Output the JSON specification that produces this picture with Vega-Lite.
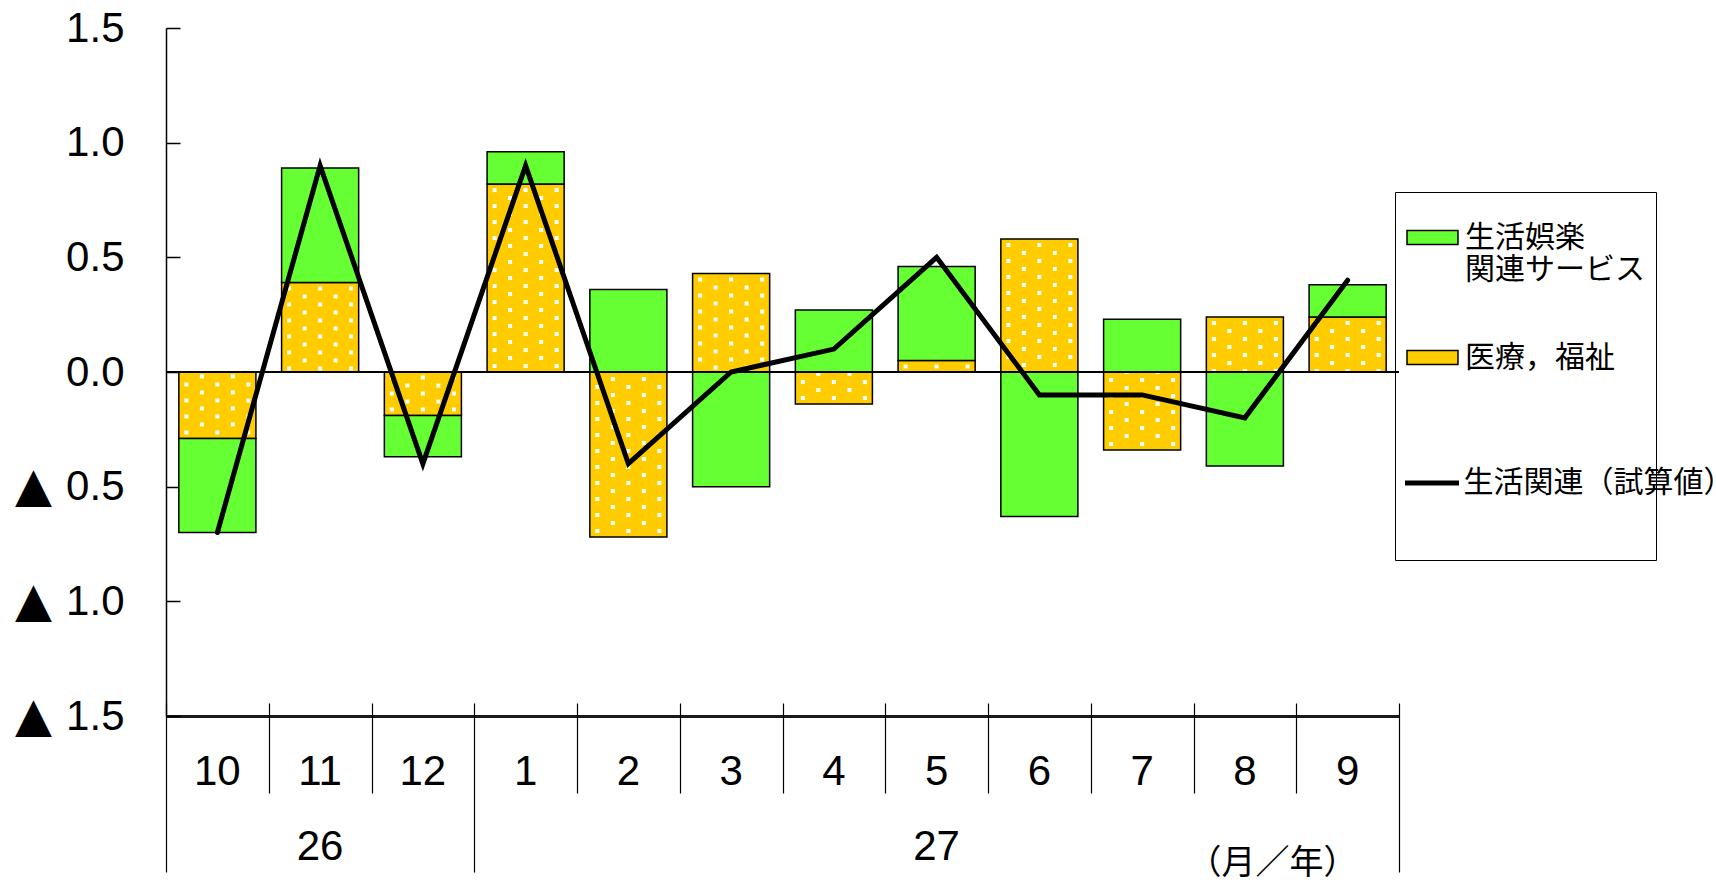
{
  "$schema": "https://vega.github.io/schema/vega-lite/v6.json",
  "width": 1233,
  "height": 688,
  "autosize": {"type": "none"},
  "padding": {"left": 166, "top": 28, "right": 317, "bottom": 168},
  "background": "white",
  "config": {
    "view": {"stroke": null},
    "axis": {"grid": false},
    "legend": {"labelFont": "Noto Sans CJK JP"}
  },
  "datasets": {
    "bars": [
      {"month": "10", "series": "医療，福祉", "ord": 0, "value": -0.29},
      {"month": "10", "series": "生活娯楽関連サービス", "ord": 1, "value": -0.41},
      {"month": "11", "series": "医療，福祉", "ord": 0, "value": 0.39},
      {"month": "11", "series": "生活娯楽関連サービス", "ord": 1, "value": 0.50},
      {"month": "12", "series": "医療，福祉", "ord": 0, "value": -0.19},
      {"month": "12", "series": "生活娯楽関連サービス", "ord": 1, "value": -0.18},
      {"month": "1", "series": "医療，福祉", "ord": 0, "value": 0.82},
      {"month": "1", "series": "生活娯楽関連サービス", "ord": 1, "value": 0.14},
      {"month": "2", "series": "医療，福祉", "ord": 0, "value": -0.72},
      {"month": "2", "series": "生活娯楽関連サービス", "ord": 1, "value": 0.36},
      {"month": "3", "series": "医療，福祉", "ord": 0, "value": 0.43},
      {"month": "3", "series": "生活娯楽関連サービス", "ord": 1, "value": -0.50},
      {"month": "4", "series": "医療，福祉", "ord": 0, "value": -0.14},
      {"month": "4", "series": "生活娯楽関連サービス", "ord": 1, "value": 0.27},
      {"month": "5", "series": "医療，福祉", "ord": 0, "value": 0.05},
      {"month": "5", "series": "生活娯楽関連サービス", "ord": 1, "value": 0.41},
      {"month": "6", "series": "医療，福祉", "ord": 0, "value": 0.58},
      {"month": "6", "series": "生活娯楽関連サービス", "ord": 1, "value": -0.63},
      {"month": "7", "series": "医療，福祉", "ord": 0, "value": -0.34},
      {"month": "7", "series": "生活娯楽関連サービス", "ord": 1, "value": 0.23},
      {"month": "8", "series": "医療，福祉", "ord": 0, "value": 0.24},
      {"month": "8", "series": "生活娯楽関連サービス", "ord": 1, "value": -0.41},
      {"month": "9", "series": "医療，福祉", "ord": 0, "value": 0.24},
      {"month": "9", "series": "生活娯楽関連サービス", "ord": 1, "value": 0.14}
    ],
    "line": [
      {"month": "10", "series": "生活関連（試算値）", "total": -0.7},
      {"month": "11", "series": "生活関連（試算値）", "total": 0.9},
      {"month": "12", "series": "生活関連（試算値）", "total": -0.4},
      {"month": "1", "series": "生活関連（試算値）", "total": 0.9},
      {"month": "2", "series": "生活関連（試算値）", "total": -0.4},
      {"month": "3", "series": "生活関連（試算値）", "total": 0.0},
      {"month": "4", "series": "生活関連（試算値）", "total": 0.1},
      {"month": "5", "series": "生活関連（試算値）", "total": 0.5},
      {"month": "6", "series": "生活関連（試算値）", "total": -0.1},
      {"month": "7", "series": "生活関連（試算値）", "total": -0.1},
      {"month": "8", "series": "生活関連（試算値）", "total": -0.2},
      {"month": "9", "series": "生活関連（試算値）", "total": 0.4}
    ],
    "bounds": [{"b": 0}, {"b": 12}]
  },
  "layer": [
    {
      "layer": [
        {
          "data": {"name": "bars"},
          "mark": {"type": "bar", "stroke": "black", "strokeWidth": 1.5},
          "encoding": {
            "x": {
              "field": "month", "type": "nominal",
              "sort": ["10","11","12","1","2","3","4","5","6","7","8","9"],
              "scale": {"paddingInner": 0.25, "paddingOuter": 0.125},
              "axis": {
                "ticks": false,
                "domain": true, "domainColor": "#1a1a1a", "domainWidth": 3,
                "labelAngle": 0,
                "labelFont": "Liberation Sans", "labelFontSize": 42, "labelColor": "black",
                "labelBaseline": "top", "labelPadding": 35, "labelLineHeight": 75,
                "labelOverlap": false,
                "labelExpr": "datum.value === '11' ? ['11', '26'] : datum.value === '5' ? ['5', '27'] : datum.label",
                "title": "（月／年）",
                "titleFont": "Noto Sans CJK JP", "titleFontSize": 34, "titleFontWeight": "normal", "titleColor": "black",
                "titleX": 1106, "titleY": 147, "titleAlign": "center", "titleBaseline": "middle", "titleAngle": 0
              }
            },
            "y": {
              "field": "value", "type": "quantitative", "stack": "zero",
              "scale": {"domain": [-1.5, 1.5], "nice": false, "zero": false},
              "axis": {
                "values": [-1.5, -1, -0.5, 0, 0.5, 1, 1.5],
                "title": null,
                "domainColor": "black", "domainWidth": 1.5,
                "tickColor": "black", "tickWidth": 1.5, "tickSize": -14,
                "labelPadding": 56,
                "labelFont": "Liberation Sans", "labelFontSize": 42, "labelColor": "black",
                "labelExpr": "format(abs(datum.value), '.1f')"
              }
            },
            "order": {"field": "ord", "type": "quantitative"},
            "fill": {
              "field": "series", "type": "nominal",
              "scale": {
                "domain": ["生活娯楽関連サービス", "医療，福祉"],
                "range": ["#66FF33", "#FFCC00"]
              },
              "legend": {
                "orient": "none", "legendX": 1229, "legendY": 164,
                "title": "\u00a0", "titleOrient": "bottom", "titleFontSize": 30, "titlePadding": 146,
                "strokeColor": "black", "padding": 11,
                "labelFontSize": 30, "labelColor": "black", "labelLimit": 500, "labelOffset": -10,
                "labelBaseline": "middle",
                "rowPadding": 38,
                "symbolType": "M-1,-0.209H0.522V0.209H-1Z",
                "symbolSize": 4489,
                "symbolStrokeColor": "black", "symbolStrokeWidth": 1.5, "symbolOpacity": 1,
                "labelExpr": "datum.value === '生活娯楽関連サービス' ? ['生活娯楽', '関連サービス'] : datum.label"
              }
            }
          }
        },
        {
          "data": {"name": "bars"},
          "transform": [{"filter": "datum.series === '医療，福祉'"}],
          "mark": {"type": "rule", "color": "white", "strokeWidth": 4, "strokeDash": [4, 12], "strokeDashOffset": 12, "xOffset": -31},
          "encoding": {
            "x": {"field": "month", "type": "nominal", "sort": ["10","11","12","1","2","3","4","5","6","7","8","9"]},
            "y": {"field": "value", "type": "quantitative"},
            "y2": {"datum": 0}
          }
        },
        {
          "data": {"name": "bars"},
          "transform": [{"filter": "datum.series === '医療，福祉'"}],
          "mark": {"type": "rule", "color": "white", "strokeWidth": 4, "strokeDash": [4, 12], "strokeDashOffset": 4, "xOffset": -15.5},
          "encoding": {
            "x": {"field": "month", "type": "nominal", "sort": ["10","11","12","1","2","3","4","5","6","7","8","9"]},
            "y": {"field": "value", "type": "quantitative"},
            "y2": {"datum": 0}
          }
        },
        {
          "data": {"name": "bars"},
          "transform": [{"filter": "datum.series === '医療，福祉'"}],
          "mark": {"type": "rule", "color": "white", "strokeWidth": 4, "strokeDash": [4, 12], "strokeDashOffset": 12, "xOffset": 0},
          "encoding": {
            "x": {"field": "month", "type": "nominal", "sort": ["10","11","12","1","2","3","4","5","6","7","8","9"]},
            "y": {"field": "value", "type": "quantitative"},
            "y2": {"datum": 0}
          }
        },
        {
          "data": {"name": "bars"},
          "transform": [{"filter": "datum.series === '医療，福祉'"}],
          "mark": {"type": "rule", "color": "white", "strokeWidth": 4, "strokeDash": [4, 12], "strokeDashOffset": 4, "xOffset": 15.5},
          "encoding": {
            "x": {"field": "month", "type": "nominal", "sort": ["10","11","12","1","2","3","4","5","6","7","8","9"]},
            "y": {"field": "value", "type": "quantitative"},
            "y2": {"datum": 0}
          }
        },
        {
          "data": {"name": "bars"},
          "transform": [{"filter": "datum.series === '医療，福祉'"}],
          "mark": {"type": "rule", "color": "white", "strokeWidth": 4, "strokeDash": [4, 12], "strokeDashOffset": 12, "xOffset": 31},
          "encoding": {
            "x": {"field": "month", "type": "nominal", "sort": ["10","11","12","1","2","3","4","5","6","7","8","9"]},
            "y": {"field": "value", "type": "quantitative"},
            "y2": {"datum": 0}
          }
        },
        {
          "data": {"name": "line"},
          "mark": {"type": "line", "strokeWidth": 5, "strokeJoin": "miter", "strokeCap": "round"},
          "encoding": {
            "x": {"field": "month", "type": "nominal", "sort": ["10","11","12","1","2","3","4","5","6","7","8","9"]},
            "y": {"field": "total", "type": "quantitative"},
            "stroke": {
              "field": "series", "type": "nominal",
              "scale": {"domain": ["生活関連（試算値）"], "range": ["#000000"]},
              "legend": {
                "orient": "none", "legendX": 1236.5, "legendY": 425.5,
                "title": null, "padding": 0,
                "labelFontSize": 30, "labelColor": "black", "labelLimit": 500, "labelOffset": 2,
                "labelBaseline": "middle",
                "symbolType": "stroke", "symbolSize": 2916, "symbolStrokeWidth": 5, "symbolOpacity": 1
              }
            }
          }
        },
        {
          "data": {"name": "line"},
          "mark": {"type": "rule", "color": "black", "strokeWidth": 1.2},
          "encoding": {"y": {"datum": 0}}
        }
      ]
    },
    {
      "data": {"name": "bounds"},
      "mark": {"type": "tick", "opacity": 0},
      "encoding": {
        "x": {
          "field": "b", "type": "quantitative",
          "scale": {"domain": [0, 12], "nice": false, "zero": false},
          "axis": {
            "orient": "bottom", "offset": -13,
            "values": [0,1,2,3,4,5,6,7,8,9,10,11,12],
            "labels": false, "domain": false, "title": null,
            "tickColor": "black", "tickWidth": 1.2,
            "tickSize": {"condition": {"test": "datum.value === 0 || datum.value === 3 || datum.value === 12", "value": 169}, "value": 90}
          }
        },
        "y": {
          "field": "b", "type": "quantitative",
          "scale": {"domain": [-1.5, 1.5], "nice": false, "zero": false},
          "axis": {
            "orient": "left",
            "values": [-1.5, -1, -0.5],
            "labels": true, "ticks": false, "domain": false, "title": null,
            "labelExpr": "'▲'",
            "labelFont": "DejaVu Sans", "labelFontSize": 48, "labelColor": "black",
            "labelAlign": "center", "labelBaseline": "middle", "labelPadding": 133
          }
        }
      }
    }
  ],
  "resolve": {
    "scale": {"x": "independent", "y": "independent"},
    "axis": {"x": "independent", "y": "independent"}
  }
}
